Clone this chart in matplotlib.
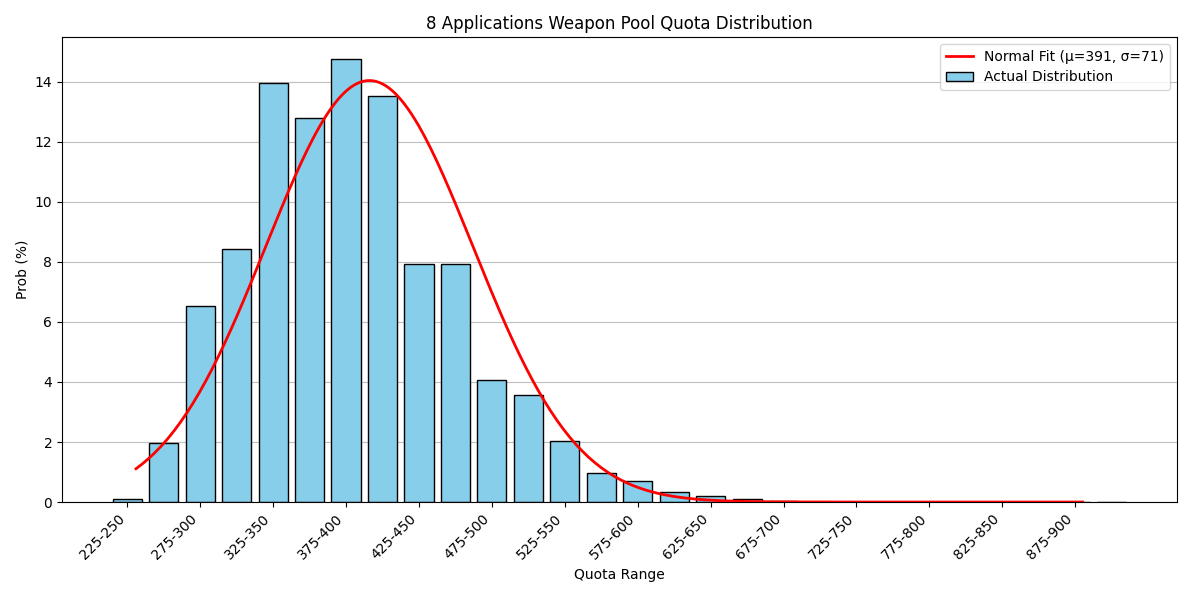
import numpy as np
import matplotlib
matplotlib.use("Agg")
import matplotlib.pyplot as plt

lower_bounds = list(range(225, 925, 25))
categories = [f"{b}-{b+25}" for b in lower_bounds]
probs = [0.1, 1.98, 6.54, 8.42, 13.97, 12.80, 14.76, 13.53, 7.92, 7.92,
         4.08, 3.55, 2.02, 0.96, 0.69, 0.32, 0.2, 0.1, 0.03, 0.01,
         0.01, 0.01, 0.01, 0.01, 0.01, 0.01, 0.01, 0.01]
mu, sigma = 391, 71
bin_width = 25
curve_start, curve_end = 231, 880

fig = plt.figure(figsize=(11.92, 5.96), dpi=100)
ax = fig.add_axes([0.052, 0.1577, 0.9354, 0.7802])

x = np.arange(len(categories))
xv = np.linspace(curve_start, curve_end, 300)
pdf = np.exp(-0.5 * ((xv - mu) / sigma) ** 2) / (sigma * np.sqrt(2 * np.pi)) * bin_width * 100
ax.plot((xv - lower_bounds[0]) / bin_width, pdf, color='red', lw=2,
        label=f"Normal Fit (μ={mu}, σ={sigma})", zorder=3)
ax.bar(x, probs, width=0.8, color='skyblue', edgecolor='black',
       label='Actual Distribution', zorder=2)

ax.set_xticks(x[::2])
ax.set_xticklabels(categories[::2], rotation=45, ha='right')
ax.yaxis.grid(True, color='#b0b0b0', alpha=0.8)
ax.set_axisbelow(True)
ax.set_title("8 Applications Weapon Pool Quota Distribution", fontsize=12)
ax.set_xlabel("Quota Range")
ax.set_ylabel("Prob (%)")
ax.legend(loc='upper right')
fig.savefig("out.png", dpi=100)
